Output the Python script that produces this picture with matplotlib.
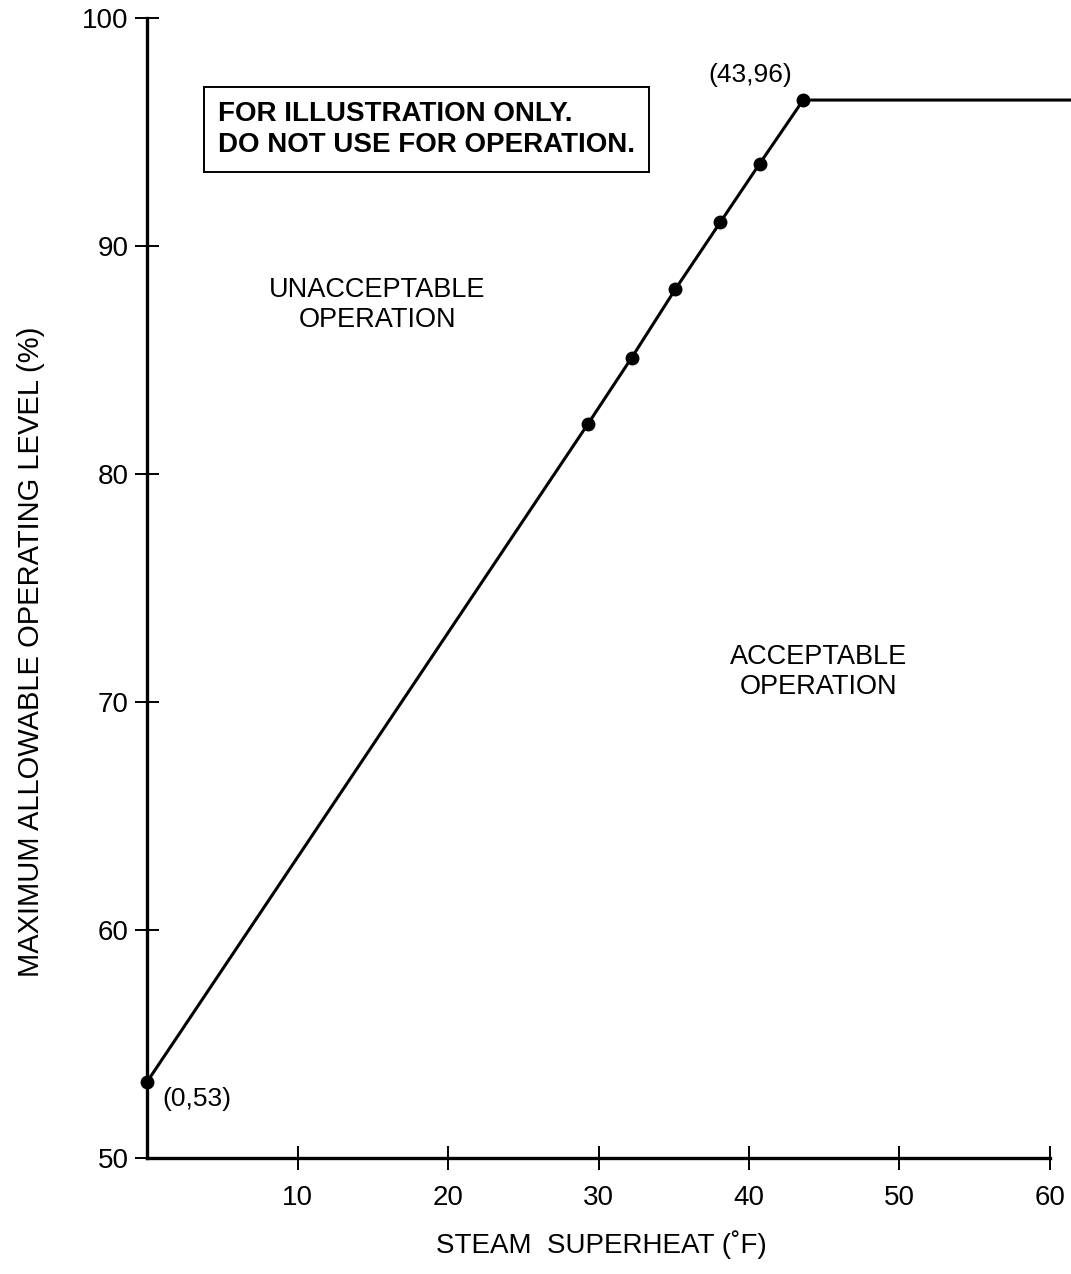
import numpy as np
import matplotlib
matplotlib.use("Agg")
import matplotlib.pyplot as plt

plt.rcParams['font.family'] = ['Liberation Sans', 'DejaVu Sans']

# curve
superheat = [0.0, 29.3, 32.2, 35.1, 38.1, 40.7, 43.6, 61.5]
level = [53.35, 82.2, 85.1, 88.1, 91.05, 93.6, 96.4, 96.4]
# which of the points carry a dot
dot_x = [0.0, 29.3, 32.2, 35.1, 38.1, 40.7, 43.6]
dot_y = [53.35, 82.2, 85.1, 88.1, 91.05, 93.6, 96.4]

x_ticks = [10, 20, 30, 40, 50, 60]
y_ticks = [50, 60, 70, 80, 90, 100]

fig = plt.figure(figsize=(10.71, 12.74), dpi=100)
ax = fig.add_axes([0.1375, 0.0911, 0.8428, 0.8948])

ax.plot(superheat, level, '-', color='black', lw=2.2, clip_on=False)
ax.plot(dot_x, dot_y, 'o', color='black', ms=9, clip_on=False)

ax.set_xlim(0, 60)
ax.set_ylim(50, 100)
ax.set_xticks(x_ticks)
ax.set_yticks(y_ticks)
ax.set_xticklabels([str(t) for t in x_ticks])
ax.set_yticklabels([str(t) for t in y_ticks])
for s in ['top', 'right']:
    ax.spines[s].set_visible(False)
for s in ['left', 'bottom']:
    ax.spines[s].set_linewidth(2.4)
ax.tick_params(direction='inout', length=17, width=1.4, labelsize=20, pad=5)
ax.tick_params(axis='x', pad=11)

# axis titles placed in pixels
fig.text(601, 1274 - 1245, 'STEAM  SUPERHEAT (˚F)', transform=None, fontsize=20,
         ha='center', va='center')
fig.text(31, 1274 - 652, 'MAXIMUM ALLOWABLE OPERATING LEVEL (%)', transform=None,
         fontsize=21, ha='center', va='center', rotation=90)

ax.text(15.3, 87.4, 'UNACCEPTABLE\nOPERATION', fontsize=19.5, ha='center', va='center',
        linespacing=1.2)
ax.text(44.6, 71.3, 'ACCEPTABLE\nOPERATION', fontsize=19.5, ha='center', va='center',
        linespacing=1.2)
ax.text(40.1, 97.5, '(43,96)', fontsize=19, ha='center', va='center')
ax.text(1.0, 52.6, '(0,53)', fontsize=19, ha='left', va='center')

ax.text(4.71, 95.1, 'FOR ILLUSTRATION ONLY.\nDO NOT USE FOR OPERATION.', fontsize=20,
        fontweight='bold', ha='left', va='center', linespacing=1.25,
        bbox=dict(boxstyle='square,pad=0.5', fc='white', ec='black', lw=1.4))

fig.savefig('out.png', dpi=100)
